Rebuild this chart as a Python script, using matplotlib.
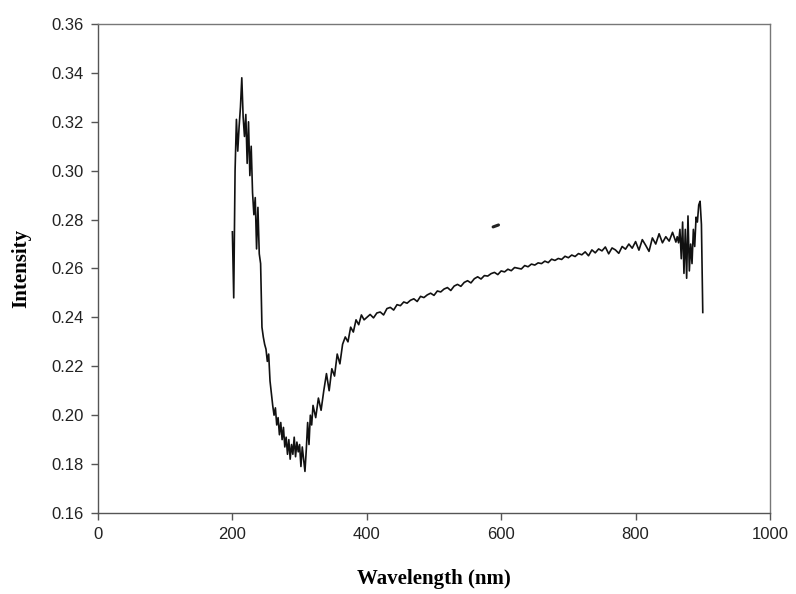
import numpy as np
import matplotlib.pyplot as plt

# wavelength grids (nm) for each stretch of the scan
wl_peak = np.arange(200, 320, 2)
wl_rise = np.arange(320, 400, 4)
wl_flat = np.arange(400, 865, 5)
wl_tail = np.arange(862, 902, 2)

# intensity
int_peak = [0.275, 0.248, 0.300, 0.321, 0.308, 0.318, 0.326, 0.338, 0.322, 0.314,
            0.323, 0.303, 0.320, 0.298, 0.310, 0.291, 0.282, 0.289, 0.268, 0.285,
            0.266, 0.262, 0.236, 0.232, 0.229, 0.227, 0.222, 0.225, 0.214, 0.209,
            0.204, 0.200, 0.203, 0.196, 0.199, 0.192, 0.197, 0.190, 0.195, 0.187,
            0.191, 0.184, 0.190, 0.182, 0.188, 0.184, 0.191, 0.183, 0.189, 0.185,
            0.188, 0.179, 0.187, 0.182, 0.177, 0.186, 0.197, 0.188, 0.200, 0.196]
int_rise = [0.204, 0.199, 0.207, 0.202, 0.210, 0.217, 0.210, 0.219, 0.216, 0.225,
            0.221, 0.229, 0.232, 0.230, 0.236, 0.234, 0.239, 0.237, 0.241, 0.239]
int_flat = [0.2400, 0.2412, 0.2398, 0.2418, 0.2422, 0.2410, 0.2436, 0.2441, 0.2430, 0.2452,
            0.2448, 0.2463, 0.2458, 0.2470, 0.2476, 0.2465, 0.2486, 0.2481, 0.2492, 0.2499,
            0.2490, 0.2508, 0.2504, 0.2516, 0.2522, 0.2510, 0.2528, 0.2535, 0.2527, 0.2543,
            0.2550, 0.2541, 0.2558, 0.2566, 0.2557, 0.2571, 0.2569, 0.2579, 0.2584, 0.2575,
            0.2590, 0.2586, 0.2597, 0.2591, 0.2604, 0.2601, 0.2598, 0.2612, 0.2607, 0.2618,
            0.2614, 0.2623, 0.2620, 0.2630, 0.2624, 0.2638, 0.2633, 0.2641, 0.2637, 0.2650,
            0.2644, 0.2655, 0.2649, 0.2661, 0.2656, 0.2668, 0.2652, 0.2676, 0.2664, 0.2680,
            0.2672, 0.2688, 0.2660, 0.2684, 0.2676, 0.2662, 0.2690, 0.2679, 0.2700, 0.2683,
            0.2710, 0.2675, 0.2718, 0.2695, 0.2670, 0.2725, 0.2700, 0.2742, 0.2705, 0.2730,
            0.2712, 0.2748, 0.2708]
int_tail = [0.2730, 0.2705, 0.2760, 0.2640, 0.2790, 0.2580, 0.2760, 0.2560, 0.2815, 0.2590,
            0.2700, 0.2620, 0.2760, 0.2690, 0.2810, 0.2790, 0.2860, 0.2875, 0.2780, 0.2420]

# small ink blot on the original scan
blot_x = [588, 596]
blot_y = [0.2770, 0.2778]

wl = np.concatenate([wl_peak, wl_rise, wl_flat, wl_tail])
inten = np.concatenate([int_peak, int_rise, int_flat, int_tail])

fig = plt.figure(figsize=(7.96, 5.94), dpi=100)
ax = fig.add_axes([0.1231, 0.1364, 0.8442, 0.8232])

ax.plot(wl, inten, color="#111111", linewidth=1.2)
ax.plot(blot_x, blot_y, color="#222222", linewidth=2.2, solid_capstyle="round")

ax.set_xlim(0, 1000)
ax.set_ylim(0.16, 0.36)
ax.set_xticks(np.arange(0, 1001, 200))
ax.set_yticks(np.arange(0.16, 0.361, 0.02))
ax.set_yticklabels([f"{v:.2f}" for v in np.arange(0.16, 0.361, 0.02)])

for side in ["left", "bottom"]:
    ax.spines[side].set_color("#555555")
    ax.spines[side].set_linewidth(1.0)
for side in ["top", "right"]:
    ax.spines[side].set_color("#777777")
    ax.spines[side].set_linewidth(1.0)

ax.tick_params(direction="out", length=5, width=1, color="#555555",
               labelsize=12, labelcolor="#222222", pad=5)
for lbl in ax.get_xticklabels() + ax.get_yticklabels():
    lbl.set_fontfamily("Liberation Sans")

ax.set_xlabel("Wavelength (nm)", fontfamily="Liberation Serif", fontweight="bold", fontsize=15)
ax.set_ylabel("Intensity", fontfamily="Liberation Serif", fontweight="bold", fontsize=15)
ax.xaxis.set_label_coords(0.5, -0.115)
ax.yaxis.set_label_coords(-0.1, 0.5)

plt.savefig("out.png", dpi=100)
